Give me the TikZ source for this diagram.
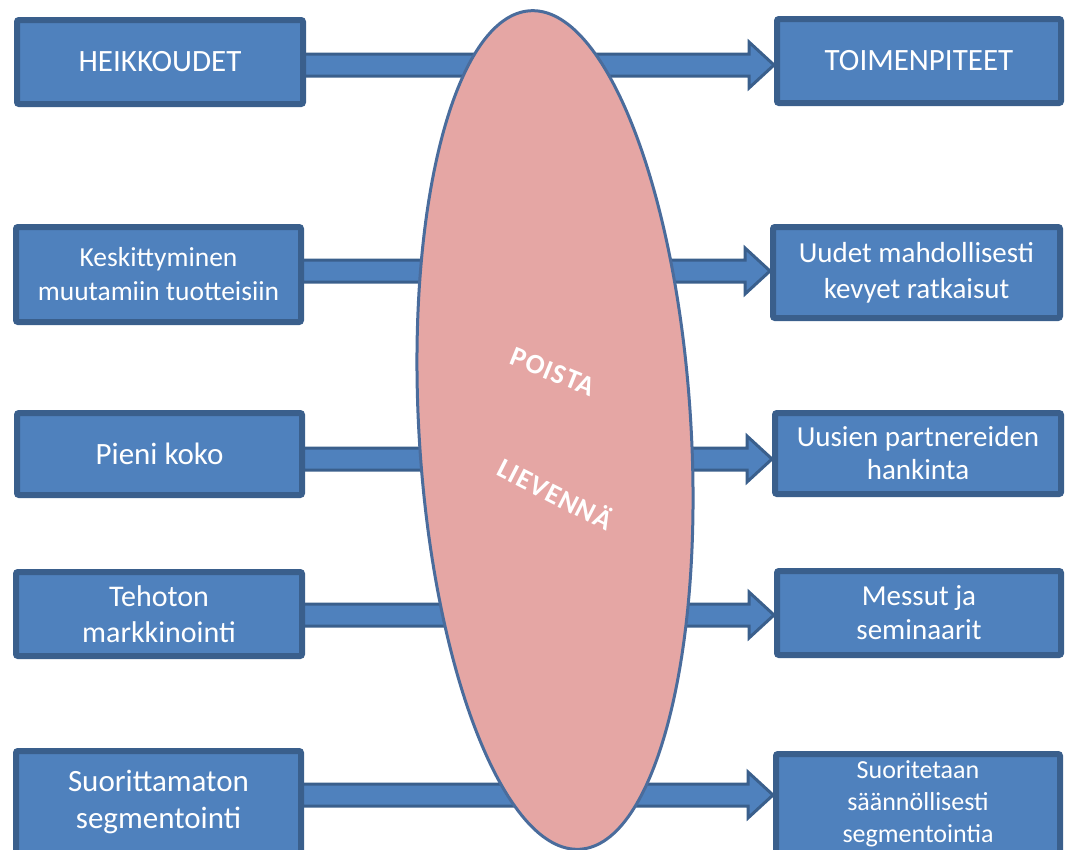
\documentclass[tikz,border=0pt]{standalone}
\usepackage{fontspec}
\setmainfont{Carlito}
\usetikzlibrary{shapes.geometric,calc}
\definecolor{boxfill}{HTML}{4F81BD}
\definecolor{boxline}{HTML}{3A5F8C}
\definecolor{ellfill}{HTML}{E5A6A4}
\definecolor{ellline}{HTML}{4A6C9C}
\tikzset{
  box/.style={draw=boxline, fill=boxfill, line width=6pt, rounded corners=2pt,
    text=white, align=center, inner sep=0pt},
  blockarrow/.style={draw=boxline, fill=boxfill, line width=3pt, line join=miter},
  oval/.style={ellipse, draw=ellline, fill=ellfill, line width=3pt, inner sep=0pt},
  ovaltext/.style={text=white, inner sep=0pt, font=\fontsize{28}{30}\selectfont\bfseries\addfontfeature{LetterSpace=4}}
}
\newcommand{\blockarr}[3]{%
  \path let \p1=(#1.east), \p2=(#2.west) in
    coordinate (s) at (\x1-1.5pt,#3) coordinate (t) at (\x2,#3);
  \draw[blockarrow] ($(s)+(0,-11)$) -- ($(t)+(-25,-11)$) -- ($(t)+(-25,-23)$) -- (t)
    -- ($(t)+(-25,23)$) -- ($(t)+(-25,11)$) -- ($(s)+(0,11)$) -- cycle;
}
\begin{document}
\begin{tikzpicture}[x=1pt,y=-1pt]
\clip (0,0) rectangle (1067,849);
\useasboundingbox (0,0) rectangle (1067,849);
% left boxes
\node[box, minimum width=286, minimum height=84, font=\fontsize{31}{36}\selectfont] (L1) at (160,62) {HEIKKOUDET};
\node[box, minimum width=285, minimum height=95, font=\fontsize{27.5}{34}\selectfont] (L2) at (158.5,274.5) {Keskittyminen\\muutamiin tuotteisiin};
\node[box, minimum width=285, minimum height=82, font=\fontsize{31}{36}\selectfont] (L3) at (159.5,454) {Pieni koko};
\node[box, minimum width=286, minimum height=84, font=\fontsize{30}{36}\selectfont] (L4) at (159,614) {Tehoton\\markkinointi};
\node[box, minimum width=285, minimum height=102, font=\fontsize{31}{37}\selectfont] (L5) at (158.5,802) {Suorittamaton\\segmentointi};
% right boxes
\node[box, minimum width=284, minimum height=84, font=\fontsize{31}{36}\selectfont] (R1) at (919,61) {TOIMENPITEET};
\node[box, minimum width=287, minimum height=91, font=\fontsize{29}{36}\selectfont] (R2) at (916.5,272.5) {Uudet mahdollisesti\\kevyet ratkaisut};
\node[box, minimum width=286, minimum height=81, font=\fontsize{29}{33}\selectfont] (R3) at (918,453.5) {Uusien partnereiden\\hankinta};
\node[box, minimum width=284, minimum height=84, font=\fontsize{29}{34}\selectfont] (R4) at (919,613) {Messut ja\\seminaarit};
\node[box, minimum width=284, minimum height=99, font=\fontsize{26}{32}\selectfont] (R5) at (918,803.5) {Suoritetaan\\säännöllisesti\\segmentointia};
% arrows
\blockarr{L1}{R1}{65}
\blockarr{L2}{R2}{271}
\blockarr{L3}{R3}{459}
\blockarr{L4}{R4}{615}
\blockarr{L5}{R5}{795}
% ellipse
\node[oval, minimum width=272, minimum height=840, rotate=3.4] (E) at (555,430) {};
\node[ovaltext, rotate=-22] (P) at (553,372) {POISTA};
\node[ovaltext, rotate=-27] (Lv) at (556,493) {LIEVENNÄ};
\end{tikzpicture}
\end{document}
